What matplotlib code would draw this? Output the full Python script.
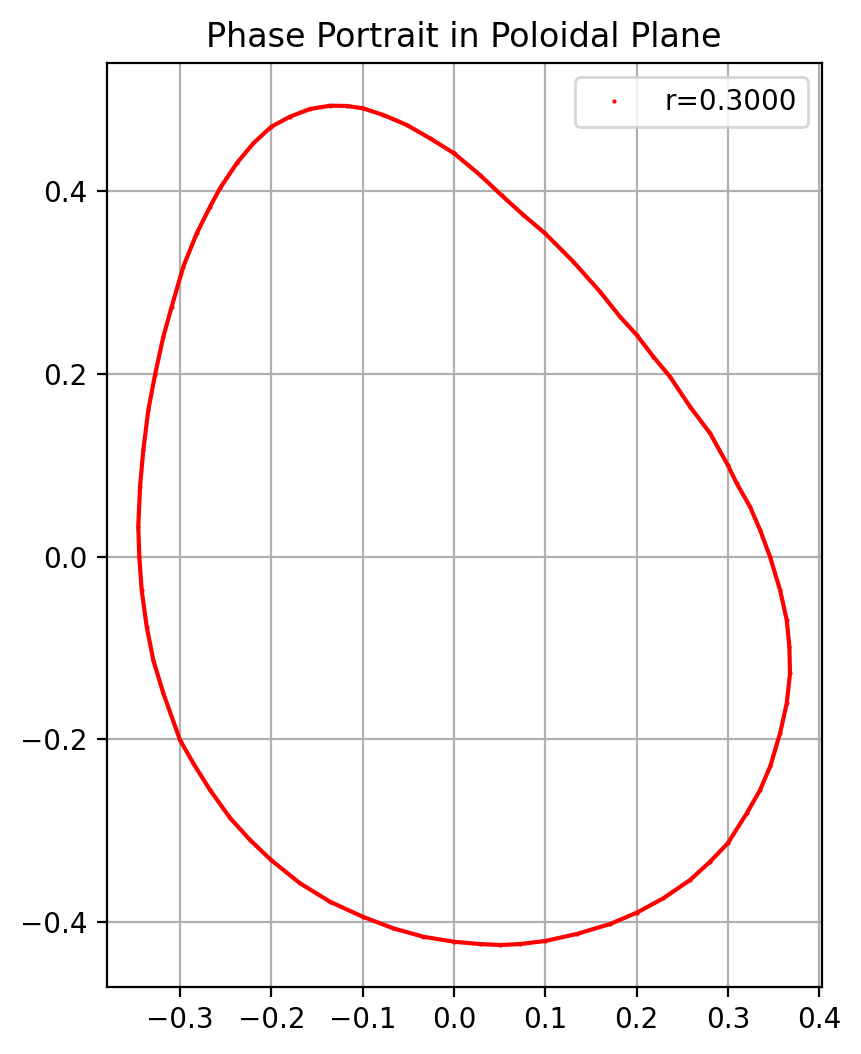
import matplotlib
matplotlib.use("Agg")
import matplotlib.pyplot as plt

# points read along the orbit (counter-clockwise from x=0 at the top)
x_pts = [0.0, -0.0263, -0.0518, -0.0774, -0.1000, -0.1175, -0.1358, -0.1577, -0.1796,
         -0.2001, -0.2198, -0.2380, -0.2563, -0.2672, -0.2818, -0.2965, -0.3092,
         -0.3184, -0.3275, -0.3348, -0.3403, -0.3439, -0.3458, -0.3447, -0.3421,
         -0.3366, -0.3294, -0.3184, -0.3001, -0.2855,
         -0.2672, -0.2453, -0.2234, -0.2004, -0.1687, -0.1358, -0.1000, -0.0665,
         -0.0336, 0.0, 0.0285, 0.0504, 0.0723,
         0.0997, 0.1344, 0.1709, 0.2001, 0.2293, 0.2585, 0.2804, 0.2998, 0.3206,
         0.3352, 0.3465,
         0.3571, 0.3644, 0.3680, 0.3673, 0.3644, 0.3571, 0.3461, 0.3352, 0.3242,
         0.3096, 0.2998,
         0.2804, 0.2585, 0.2366, 0.2183, 0.2001, 0.1818, 0.1599, 0.1307, 0.0997,
         0.0759, 0.0522, 0.0285, 0.0]
y_pts = [0.4416, 0.4580, 0.4726, 0.4835, 0.4909, 0.4934, 0.4937, 0.4901, 0.4817,
         0.4707, 0.4525, 0.4307, 0.4033, 0.3831, 0.3540, 0.3175, 0.2737,
         0.2408, 0.1989, 0.1606, 0.1168, 0.0766, 0.0328, 0.0, -0.0365,
         -0.0766, -0.1131, -0.1495, -0.2007, -0.2262,
         -0.2554, -0.2860, -0.3101, -0.3320, -0.3575, -0.3777, -0.3941, -0.4068,
         -0.4160, -0.4215, -0.4240, -0.4251, -0.4240,
         -0.4207, -0.4130, -0.4021, -0.3897, -0.3739, -0.3539, -0.3339, -0.3137, -0.2809,
         -0.2554, -0.2290,
         -0.1933, -0.1605, -0.1277, -0.0985, -0.0693, -0.0365, 0.0, 0.0292, 0.0547,
         0.0803, 0.1004,
         0.1351, 0.1642, 0.1970, 0.2189, 0.2427, 0.2627, 0.2901, 0.3229, 0.3540,
         0.3741, 0.3955, 0.4178, 0.4416]
r_label = "r=0.3000"


def main():
    fig = plt.figure(figsize=(8.61 / 2, 10.54 / 2), dpi=200)
    ax = fig.add_axes([106.7 / 861, 67.3 / 1054, 715.0 / 861, 923.4 / 1054])

    # orbit drawn as a thin trace plus the dots themselves
    ax.plot(x_pts, y_pts, color='red', linewidth=1.5)
    ax.plot(x_pts, y_pts, 'r.', markersize=1, label=r_label)

    ax.set_xlim(-0.3804, 0.4027)
    ax.set_ylim(-0.4707, 0.5401)
    ax.set_title('Phase Portrait in Poloidal Plane')
    ax.legend(loc='upper right')
    ax.grid(True)

    fig.savefig("out.png", dpi=200)


if __name__ == "__main__":
    main()
